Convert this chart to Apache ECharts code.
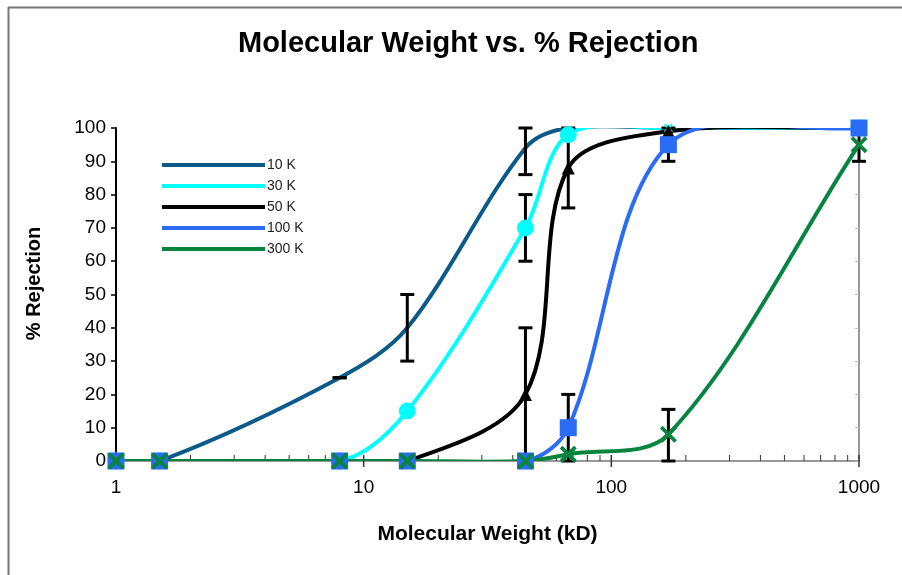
<!DOCTYPE html>
<html><head><meta charset="utf-8">
<script src="https://cdn.jsdelivr.net/npm/echarts@6/dist/echarts.min.js"></script>
<style>html,body{margin:0;padding:0;background:#fff}#c{width:902px;height:575px}</style>
</head><body><div id="c"></div>
<script>
// Molecular weight (kD)
const mw = [1, 1.5, 8, 15, 45, 67, 170, 1000];
// % rejection for each membrane
const r10k  = [0, 0, 25, 40, 94, 100, 100, 100];
const r30k  = [0, 0, 0, 15, 70, 98, 100, 100];
const r50k  = [0, 0, 0, 0, 20, 88, 99, 100];
const r100k = [0, 0, 0, 0, 0, 10, 95, 100];
const r300k = [0, 0, 0, 0, 0, 2, 8, 95];
// error bars [x, low, high]
const e10k  = [[8, 25, 25], [15, 30, 50], [45, 86, 100]];
const e30k  = [[45, 60, 80]];
const e50k  = [[45, 0, 40], [67, 76, 100]];
const e100k = [[67, 0, 20], [170, 90, 100]];
const e300k = [[170, 0, 15.5], [1000, 90, 100]];
const names = ['10 K', '30 K', '50 K', '100 K', '300 K'];
const majorTicks = [1, 10, 100, 1000];
const minorTicks = [2,3,4,5,6,7,8,9,20,30,40,50,60,70,80,90,200,300,400,500,600,700,800,900];

const colors = ['#0b5a87', '#00ffff', '#000000', '#2a6df4', '#07843f'];
const xShape = 'path://M0,1.6L1.6,0L5,3.4L8.4,0L10,1.6L6.6,5L10,8.4L8.4,10L5,6.6L1.6,10L0,8.4L3.4,5Z';
const FONT = 'Liberation Sans, Arial, sans-serif';
const SMOOTH = 0.33;

function pts(ys){ return mw.map((x,i)=>[x, ys[i]]); }

// smoothed line: bezier segments computed in pixel space from the axis coordinates
function smoothPath(P){
  const n = P.length;
  const dist = (a,b)=>Math.hypot(a[0]-b[0], a[1]-b[1]);
  const aIn = [], aOut = [];
  for (let i = 0; i < n; i++){
    if (i === 0){ aOut[i] = [(P[1][0]-P[0][0])*SMOOTH, (P[1][1]-P[0][1])*SMOOTH]; aIn[i] = [0,0]; continue; }
    if (i === n-1){ aIn[i] = [(P[i][0]-P[i-1][0])*SMOOTH, (P[i][1]-P[i-1][1])*SMOOTH]; aOut[i] = [0,0]; continue; }
    const v = [P[i+1][0]-P[i-1][0], P[i+1][1]-P[i-1][1]];
    const dp = dist(P[i],P[i-1]), dn = dist(P[i],P[i+1]);
    const s = dp + dn || 1;
    aIn[i]  = [v[0]*SMOOTH*dp/s, v[1]*SMOOTH*dp/s];
    aOut[i] = [v[0]*SMOOTH*dn/s, v[1]*SMOOTH*dn/s];
  }
  let d = 'M' + P[0][0] + ' ' + P[0][1];
  for (let i = 0; i < n - 1; i++){
    const b1 = [P[i][0] + aOut[i][0], P[i][1] + aOut[i][1]];
    const b2 = [P[i+1][0] - aIn[i+1][0], P[i+1][1] - aIn[i+1][1]];
    d += ' C' + b1[0] + ' ' + b1[1] + ' ' + b2[0] + ' ' + b2[1] + ' ' + P[i+1][0] + ' ' + P[i+1][1];
  }
  return d;
}
function curveSeries(name, ys, color){
  return {
    name, type:'custom', data: pts(ys), z:2, clip:true, animation:false, silent:true,
    itemStyle:{color},
    renderItem(params, api){
      if (params.dataIndex !== 0) return;
      const P = mw.map((x,i)=>api.coord([x, ys[i]]));
      return {type:'path', shape:{pathData:smoothPath(P)},
              style:{stroke:color, lineWidth:4, fill:null, lineJoin:'round', lineCap:'round'}};
    }
  };
}
function markerSeries(ys, color, symbol, size, small){
  return {
    type:'scatter', z:2,
    data: pts(ys).map((p,i)=> (small && small.indexOf(i) >= 0)
      ? {value:p, symbol:xShape, symbolSize:9} : {value:p}),
    symbol, symbolSize:size,
    itemStyle:{color, opacity:1}, clip:false, animation:false, silent:true
  };
}
function errSeries(data){
  return {
    type:'custom', data, z:2, clip:false, animation:false, silent:true,
    renderItem(params, api){
      const lo = api.coord([api.value(0), api.value(1)]);
      const hi = api.coord([api.value(0), api.value(2)]);
      const x = lo[0], w = 7;
      const st = {stroke:'#000', lineWidth:3};
      return {type:'group', children:[
        {type:'line', shape:{x1:x, y1:lo[1], x2:x, y2:hi[1]}, style:st},
        {type:'line', shape:{x1:x-w, y1:lo[1], x2:x+w, y2:lo[1]}, style:st},
        {type:'line', shape:{x1:x-w, y1:hi[1], x2:x+w, y2:hi[1]}, style:st}
      ]};
    }
  };
}
function tickSeries(vals, up, down, color, width){
  return {
    type:'custom', data: vals.map(v=>[v, 0]), z:1, clip:false, animation:false, silent:true,
    renderItem(params, api){
      const p = api.coord([api.value(0), 0]);
      return {type:'line', shape:{x1:p[0], y1:p[1]-up, x2:p[0], y2:p[1]+down},
              style:{stroke:color, lineWidth:width}};
    }
  };
}

const chart = echarts.init(document.getElementById('c'), null, {renderer:'canvas'});
chart.setOption({
  backgroundColor:'#fff',
  animation:false,
  textStyle:{fontFamily:FONT},
  title:{
    text:'Molecular Weight vs. % Rejection', left:233, top:24,
    textStyle:{fontSize:29, fontWeight:'bold', color:'#000', fontFamily:FONT}
  },
  graphic:[
    {type:'line', shape:{x1:8.5, y1:7, x2:8.5, y2:575}, style:{stroke:'#777', lineWidth:2}},
    {type:'line', shape:{x1:8, y1:7.5, x2:902, y2:7.5}, style:{stroke:'#777', lineWidth:2}}
  ],
  legend:{
    data: names.map(n=>({name:n, icon:'rect'})),
    orient:'vertical', left:157, top:151, itemWidth:103, itemHeight:4, itemGap:3,
    textStyle:{fontSize:14, lineHeight:14, color:'#222', padding:[0,0,4,-3]},
    selectedMode:false
  },
  grid:{left:116, right:43, top:128, bottom:114, containLabel:false},
  xAxis:[{
    type:'log', logBase:10, min:1, max:1000,
    name:'Molecular Weight (kD)', nameLocation:'middle', nameGap:63,
    nameTextStyle:{fontSize:21, fontWeight:'bold', color:'#000'},
    axisLine:{lineStyle:{color:'#555', width:2}},
    axisTick:{show:false}, splitLine:{show:false}, minorTick:{show:false},
    axisLabel:{fontSize:19, color:'#000', margin:17, formatter:(v)=>String(v)}
  },{
    type:'value', position:'top', min:0, max:1,
    axisLine:{show:true, lineStyle:{color:'#999', width:2}},
    axisTick:{show:false}, axisLabel:{show:false}, splitLine:{show:false}
  }],
  yAxis:[{
    type:'value', min:0, max:100, interval:10,
    name:'% Rejection', nameLocation:'middle', nameGap:72, nameRotate:90,
    nameTextStyle:{fontSize:20, fontWeight:'bold', color:'#000', padding:[0,0,0,22]},
    axisLine:{show:true, lineStyle:{color:'#000', width:2}},
    axisTick:{show:true, length:5, lineStyle:{color:'#000', width:1.5}},
    axisLabel:{fontSize:19, color:'#000', margin:10},
    splitLine:{show:false}
  },{
    type:'value', position:'right', min:0, max:100, interval:10,
    axisLine:{show:true, lineStyle:{color:'#999', width:2}},
    axisTick:{show:true, inside:true, length:4, lineStyle:{color:'#bbb'}},
    axisLabel:{show:false}, splitLine:{show:false}
  }],
  series:[
    tickSeries(minorTicks, 6, 0, '#333', 1),
    tickSeries(majorTicks, 6, 6, '#333', 1.5),
    curveSeries(names[0], r10k, colors[0]),
    errSeries(e10k),
    errSeries(e30k),
    curveSeries(names[1], r30k, colors[1]),
    markerSeries(r30k, colors[1], 'circle', 17, [6]),
    errSeries(e50k),
    curveSeries(names[2], r50k, colors[2]),
    markerSeries(r50k, colors[2], 'triangle', 13),
    errSeries(e100k),
    curveSeries(names[3], r100k, colors[3]),
    markerSeries(r100k, colors[3], 'rect', 17),
    errSeries(e300k),
    curveSeries(names[4], r300k, colors[4]),
    markerSeries(r300k, colors[4], xShape, 17)
  ]
});
</script></body></html>
